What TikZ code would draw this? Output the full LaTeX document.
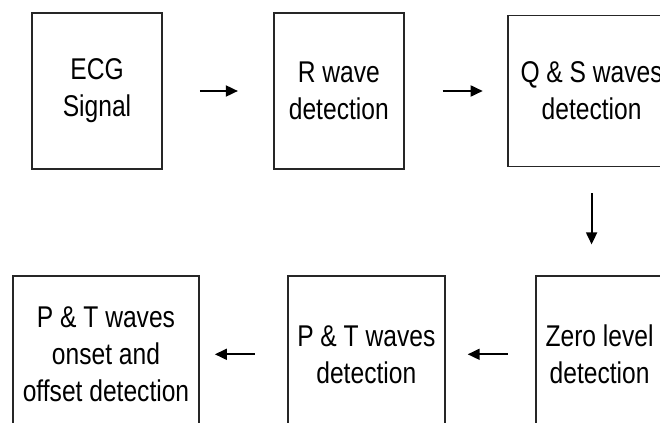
\documentclass[tikz,border=0pt]{standalone}
\usepackage{fontspec}
\setmainfont{Liberation Sans}[FakeStretch=0.82]
\usepackage{tikz}
\usetikzlibrary{arrows.meta, positioning}

\begin{document}
\begin{tikzpicture}[
  every node/.style={font=\fontsize{15}{18.5}\selectfont},
  block/.style={rectangle, draw=black!85, line width=0.9pt, align=center, inner sep=0pt, minimum width=65pt, minimum height=78pt},
  arrow/.style={-{Triangle[length=6pt, width=5.5pt]}, line width=0.9pt}
]

\useasboundingbox (0,0) rectangle (330pt,-211.5pt);
\clip (0,0) rectangle (330pt,-211.5pt);

% First row
\node[block] (ecg) at (48.5pt,-45.5pt) {ECG\\Signal};
\node[block, right=55pt of ecg] (rwave) {R wave\\detection};
\node[block, right=51pt of rwave, minimum width=84pt, minimum height=75.5pt] (qs) {Q \& S waves\\detection};

% Second row (right to left)
\node[block, below=54pt of qs, xshift=4pt, minimum width=64pt] (zero) {Zero level\\detection};
\node[block, left=44.5pt of zero, minimum width=78.5pt] (ptdet) {P \& T waves\\detection};
\node[block, left=43.5pt of ptdet, minimum width=93pt] (onset) {P \& T waves\\onset and\\offset detection};

% Arrows
\draw[arrow, shorten <=18.5pt, shorten >=17.5pt] (ecg) -- (rwave);
\draw[arrow, shorten <=19pt, shorten >=12pt] (rwave) -- (qs);
\draw[arrow, shorten <=13pt, shorten >=15.5pt] (qs.south) -- (qs.south |- zero.north);
\draw[arrow, shorten <=13.5pt, shorten >=11pt] (zero) -- (ptdet);
\draw[arrow, shorten <=16pt, shorten >=7.5pt] (ptdet) -- (onset);

\end{tikzpicture}
\end{document}
